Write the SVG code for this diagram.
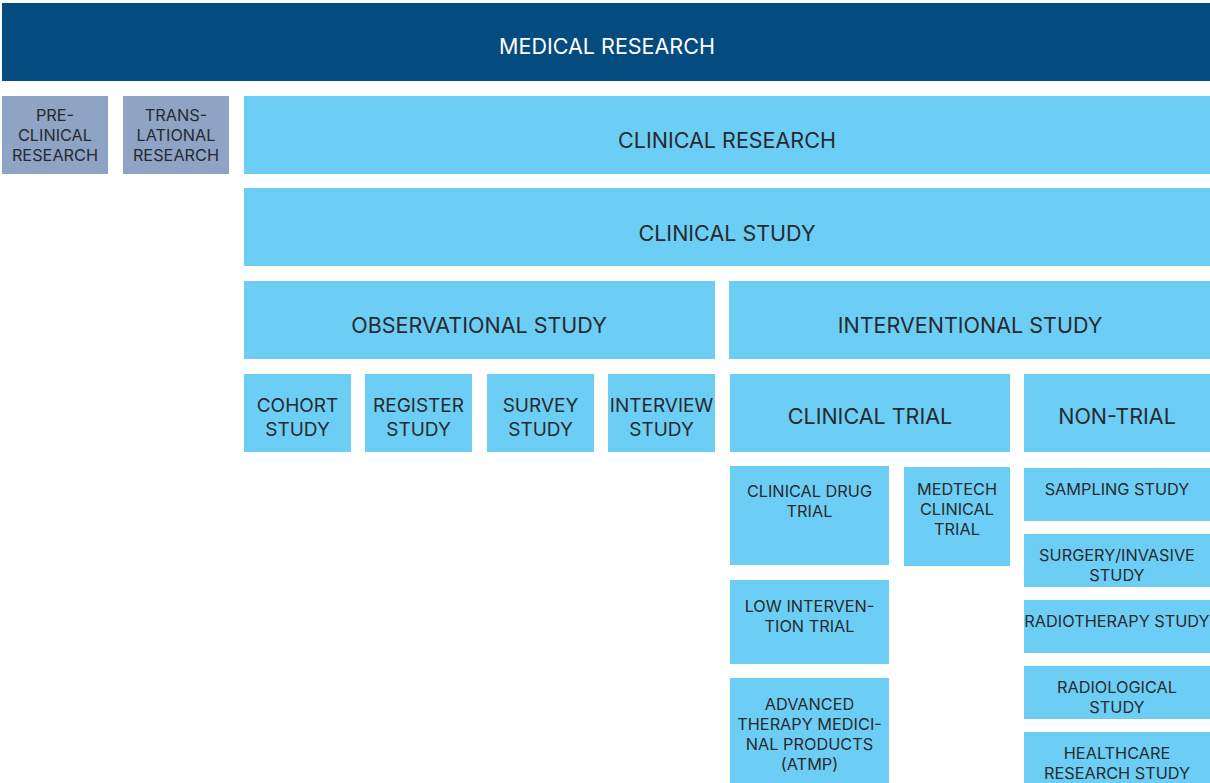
<svg xmlns="http://www.w3.org/2000/svg" width="1210" height="783" viewBox="0 0 1210 783">
  <style>
    text { font-family: Inter, "Liberation Sans", sans-serif; fill: #262a30; text-anchor: middle; }
    .top { fill: #044b7f; }
    .grey { fill: #8fa3c4; }
    .blue { fill: #6dcef5; }
    .t1 { font-size: 21.5px; }
    .t2 { font-size: 19px; }
    .t3 { font-size: 16.3px; }
    .white { fill: #ffffff; }
  </style>

  <g id="medical-research">
    <rect class="top" x="2" y="3" width="1208" height="78"/>
    <text class="t1 white" x="607" y="54">MEDICAL RESEARCH</text>
  </g>

  <g id="pre-clinical-research">
    <rect class="grey" x="2" y="96" width="106" height="78"/>
    <text class="t3"><tspan x="55" y="121">PRE-</tspan><tspan x="55" y="141">CLINICAL</tspan><tspan x="55" y="161">RESEARCH</tspan></text>
  </g>

  <g id="translational-research">
    <rect class="grey" x="123" y="96" width="106" height="78"/>
    <text class="t3"><tspan x="176" y="121">TRANS-</tspan><tspan x="176" y="141">LATIONAL</tspan><tspan x="176" y="161">RESEARCH</tspan></text>
  </g>

  <g id="clinical-research">
    <rect class="blue" x="244" y="96" width="966" height="78"/>
    <text class="t1" x="727" y="148">CLINICAL RESEARCH</text>
  </g>

  <g id="clinical-study">
    <rect class="blue" x="244" y="188" width="966" height="78"/>
    <text class="t1" x="727" y="241">CLINICAL STUDY</text>
  </g>

  <g id="observational-study">
    <rect class="blue" x="244" y="281" width="471" height="78"/>
    <text class="t1" x="479" y="333">OBSERVATIONAL STUDY</text>
  </g>

  <g id="interventional-study">
    <rect class="blue" x="729" y="281" width="481" height="78"/>
    <text class="t1" x="970" y="333">INTERVENTIONAL STUDY</text>
  </g>

  <g id="cohort-study">
    <rect class="blue" x="244" y="374" width="107" height="78"/>
    <text class="t2"><tspan x="297.5" y="412">COHORT</tspan><tspan x="297.5" y="436">STUDY</tspan></text>
  </g>

  <g id="register-study">
    <rect class="blue" x="365" y="374" width="107" height="78"/>
    <text class="t2"><tspan x="418.5" y="412">REGISTER</tspan><tspan x="418.5" y="436">STUDY</tspan></text>
  </g>

  <g id="survey-study">
    <rect class="blue" x="487" y="374" width="107" height="78"/>
    <text class="t2"><tspan x="540.5" y="412">SURVEY</tspan><tspan x="540.5" y="436">STUDY</tspan></text>
  </g>

  <g id="interview-study">
    <rect class="blue" x="608" y="374" width="107" height="78"/>
    <text class="t2"><tspan x="661.5" y="412">INTERVIEW</tspan><tspan x="661.5" y="436">STUDY</tspan></text>
  </g>

  <g id="clinical-trial">
    <rect class="blue" x="730" y="374" width="280" height="78"/>
    <text class="t1" x="870" y="424">CLINICAL TRIAL</text>
  </g>

  <g id="non-trial">
    <rect class="blue" x="1024" y="374" width="186" height="78"/>
    <text class="t1" x="1117" y="424">NON-TRIAL</text>
  </g>

  <g id="clinical-drug-trial">
    <rect class="blue" x="730" y="466" width="159" height="99"/>
    <text class="t3"><tspan x="809.5" y="497">CLINICAL DRUG</tspan><tspan x="809.5" y="517">TRIAL</tspan></text>
  </g>

  <g id="medtech-clinical-trial">
    <rect class="blue" x="904" y="467" width="106" height="99"/>
    <text class="t3"><tspan x="957" y="495">MEDTECH</tspan><tspan x="957" y="515">CLINICAL</tspan><tspan x="957" y="535">TRIAL</tspan></text>
  </g>

  <g id="low-intervention-trial">
    <rect class="blue" x="730" y="580" width="159" height="84"/>
    <text class="t3"><tspan x="809.5" y="612">LOW INTERVEN-</tspan><tspan x="809.5" y="632">TION TRIAL</tspan></text>
  </g>

  <g id="atmp">
    <rect class="blue" x="730" y="678" width="159" height="105"/>
    <text class="t3"><tspan x="809.5" y="710">ADVANCED</tspan><tspan x="809.5" y="730">THERAPY MEDICI-</tspan><tspan x="809.5" y="750">NAL PRODUCTS</tspan><tspan x="809.5" y="770">(ATMP)</tspan></text>
  </g>

  <g id="sampling-study">
    <rect class="blue" x="1024" y="468" width="186" height="53"/>
    <text class="t3" x="1117" y="495">SAMPLING STUDY</text>
  </g>

  <g id="surgery-invasive-study">
    <rect class="blue" x="1024" y="534" width="186" height="53"/>
    <text class="t3"><tspan x="1117" y="561">SURGERY/INVASIVE</tspan><tspan x="1117" y="581">STUDY</tspan></text>
  </g>

  <g id="radiotherapy-study">
    <rect class="blue" x="1024" y="600" width="186" height="53"/>
    <text class="t3" x="1117" y="627">RADIOTHERAPY STUDY</text>
  </g>

  <g id="radiological-study">
    <rect class="blue" x="1024" y="666" width="186" height="53"/>
    <text class="t3"><tspan x="1117" y="693">RADIOLOGICAL</tspan><tspan x="1117" y="713">STUDY</tspan></text>
  </g>

  <g id="healthcare-research-study">
    <rect class="blue" x="1024" y="732" width="186" height="51"/>
    <text class="t3"><tspan x="1117" y="759">HEALTHCARE</tspan><tspan x="1117" y="779">RESEARCH STUDY</tspan></text>
  </g>

  <g id="connectors"></g>
</svg>
